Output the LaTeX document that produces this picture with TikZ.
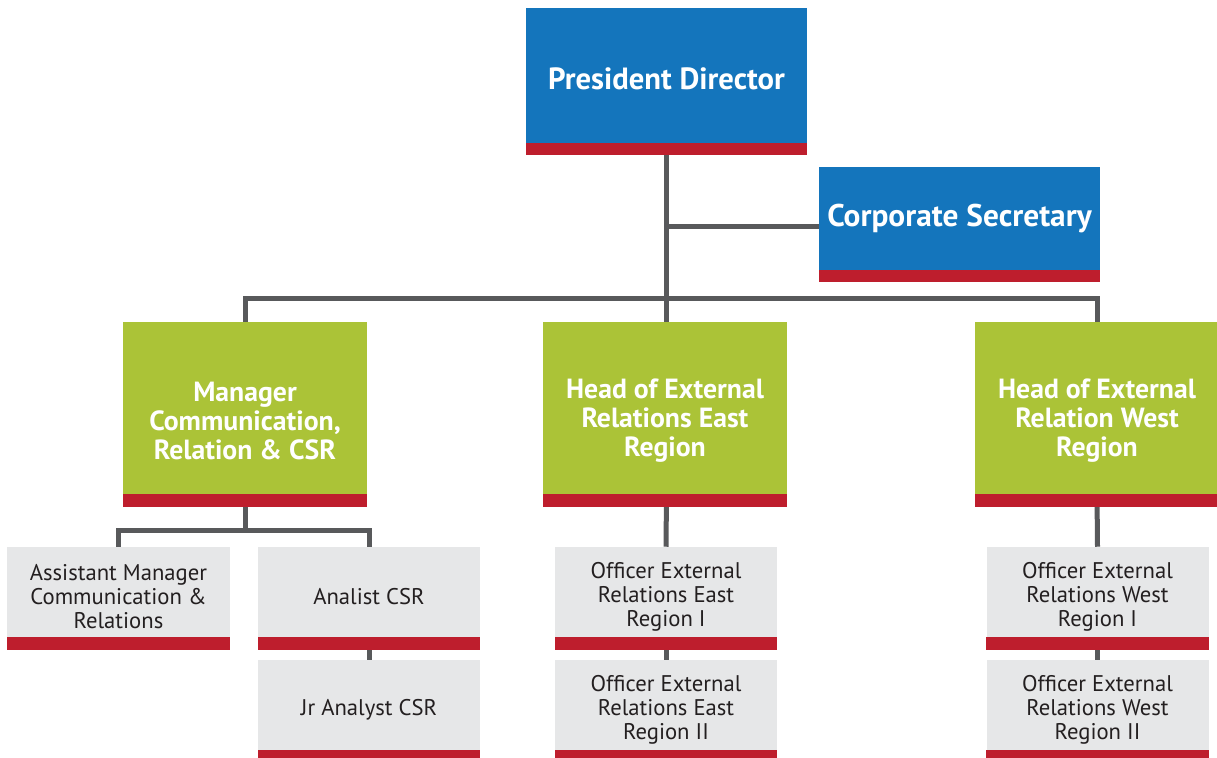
\documentclass[tikz,border=0pt]{standalone}
\usepackage{fontspec}
\setmainfont{PT Sans}
\usetikzlibrary{calc,backgrounds}
\definecolor{boxblue}{HTML}{1475BC}
\definecolor{boxred}{HTML}{BE1E2D}
\definecolor{boxgreen}{HTML}{ABC337}
\definecolor{boxgray}{HTML}{E6E7E8}
\definecolor{linegray}{HTML}{58595B}
\definecolor{txtdark}{HTML}{231F20}
\tikzset{
  bar/.style={fill=boxred},
  topbox/.style={fill=boxblue, text=white, minimum width=281*0.75pt, align=center,
     font=\fontsize{23.5}{27}\selectfont\bfseries, inner sep=0pt},
  midbox/.style={fill=boxgreen, minimum width=244*0.75pt, minimum height=172*0.75pt, inner sep=0pt},
  midtxt/.style={text=white, align=center, inner sep=0pt, yshift=-9.5pt,
     font=\fontsize{20.8}{21.75}\selectfont\bfseries},
  lowbox/.style={fill=boxgray, minimum width=222*0.75pt, minimum height=90*0.75pt, inner sep=0pt},
  lowtxt/.style={text=txtdark, align=center, inner sep=0pt, yshift=-3.5pt,
     font=\fontsize{17}{18}\selectfont},
  conn/.style={draw=linegray, line width=3.75pt},
}
\begin{document}
\begin{tikzpicture}[x=0.75pt,y=-0.75pt]
\useasboundingbox (0,0) rectangle (1217,757);
\clip (0,0) rectangle (1217,757);
% top level
\node[topbox, minimum height=135*0.75pt, label={[text=white, font=\fontsize{23}{27}\selectfont\bfseries, inner sep=0pt, yshift=-2.25pt]center:President Director}] (pd) at (666.5,75.5) {};
\node[topbox, minimum height=103*0.75pt] (cs) at (959.5,218.5) {Corporate Secretary};
% middle level
\node[midbox, label={[midtxt]center:Manager\\Communication,\\Relation \& CSR}] (mgr) at (245,408) {};
\node[midbox, label={[midtxt]center:Head of External\\Relations East\\Region}] (east) at (665,408) {};
\node[midbox, label={[midtxt]center:Head of External\\Relation West\\Region}] (west) at (1097,408) {};
% low level
\node[lowbox, minimum width=223*0.75pt, label={[lowtxt]center:Assistant Manager\\Communication \&\\Relations}] (asst) at (118.5,592) {};
\node[lowbox, label={[lowtxt]center:Analist CSR}] (anal) at (369,592) {};
\node[lowbox, label={[lowtxt]center:Jr Analyst CSR}] (jr) at (369,705) {};
\node[lowbox, label={[lowtxt]center:Officer External\\Relations East\\Region I}] (oe1) at (666,592) {};
\node[lowbox, label={[lowtxt]center:Officer External\\Relations East\\Region II}] (oe2) at (666,705) {};
\node[lowbox, label={[lowtxt]center:Officer External\\Relations West\\Region I}] (ow1) at (1097.5,592) {};
\node[lowbox, label={[lowtxt]center:Officer External\\Relations West\\Region II}] (ow2) at (1097.5,705) {};
% red bars
\foreach \n/\h in {pd/12,cs/12,mgr/13,east/13,west/13,asst/13,anal/13,jr/13,oe1/13,oe2/13,ow1/13,ow2/13}{
  \fill[bar] (\n.south west) rectangle ($(\n.south east)+(0,\h)$);
}
% connectors
\coordinate (bus) at (666,298);
\coordinate (sub) at (245,530);
\coordinate (csin) at ($(cs.west)+(0,7.5)$);
\begin{scope}[on background layer]
  \draw[conn] (pd.south) -- (pd.south |- mgr.north);
  \draw[conn] (pd.south |- csin) -- (csin);
  \draw[conn] (mgr.north) |- (bus) -| (west.north);
  \draw[conn] (mgr.south) -- (sub);
  \draw[conn] (asst.north) |- (sub) -| (anal.north);
  \draw[conn] (anal.south) -- (jr.north);
  \draw[conn] (pd.south |- east.south) -- (oe1.north);
  \draw[conn] (oe1.south) -- (oe2.north);
  \draw[conn] (west.south) -- (ow1.north);
  \draw[conn] (ow1.south) -- (ow2.north);
\end{scope}
\end{tikzpicture}
\end{document}
